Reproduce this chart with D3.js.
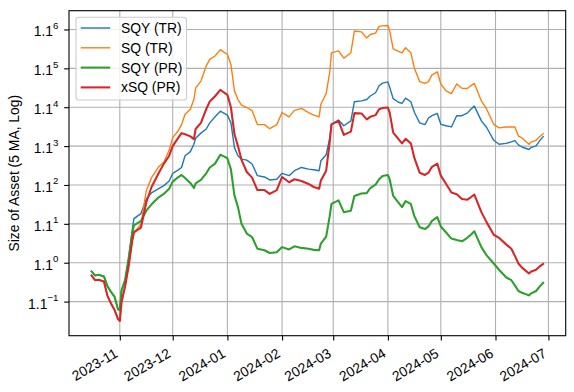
<!DOCTYPE html>
<html><head><meta charset="utf-8">
<script src="https://cdn.jsdelivr.net/npm/d3@7/dist/d3.min.js"></script>
<style>
body{margin:0;background:#fff}
svg{display:block}
text{font-family:"Liberation Sans",Arial,Helvetica,sans-serif}
</style>
</head><body>
<svg id="chart" width="574" height="392"></svg>
<script>
// ---------------- data ----------------
const dates = ["2023-10-16","2023-10-18","2023-10-20","2023-10-23","2023-10-25","2023-10-27","2023-10-29","2023-10-31","2023-11-01","2023-11-02",
"2023-11-04","2023-11-06","2023-11-08","2023-11-09","2023-11-11","2023-11-13","2023-11-16","2023-11-19","2023-11-23","2023-11-26",
"2023-11-29","2023-12-01","2023-12-04","2023-12-06","2023-12-08","2023-12-11","2023-12-13","2023-12-14","2023-12-17","2023-12-20",
"2023-12-22","2023-12-25","2023-12-28","2023-12-30","2024-01-01","2024-01-03","2024-01-05","2024-01-07","2024-01-09","2024-01-12",
"2024-01-15","2024-01-18","2024-01-22","2024-01-25","2024-01-29","2024-02-01","2024-02-05","2024-02-08","2024-02-12","2024-02-16",
"2024-02-19","2024-02-22","2024-02-23","2024-02-26","2024-02-28","2024-02-29","2024-03-04","2024-03-07","2024-03-11","2024-03-13",
"2024-03-17","2024-03-20","2024-03-22","2024-03-25","2024-03-27","2024-03-29","2024-04-01","2024-04-02","2024-04-04","2024-04-07",
"2024-04-09","2024-04-11","2024-04-14","2024-04-16","2024-04-19","2024-04-22","2024-04-24","2024-04-26","2024-04-29","2024-05-01",
"2024-05-04","2024-05-07","2024-05-10","2024-05-13","2024-05-16","2024-05-18","2024-05-20","2024-05-24","2024-05-27","2024-05-31",
"2024-06-03","2024-06-07","2024-06-10","2024-06-12","2024-06-14","2024-06-16","2024-06-20","2024-06-21","2024-06-24","2024-06-26","2024-06-28"];

const sqyTR = [0.979,0.969,0.971,0.967,0.944,0.931,0.920,0.892,0.890,0.935,
0.958,1.010,1.081,1.114,1.121,1.128,1.169,1.187,1.199,1.208,
1.222,1.245,1.255,1.263,1.300,1.313,1.337,1.357,1.374,1.388,
1.409,1.430,1.450,1.443,1.436,1.409,1.326,1.300,1.289,1.286,
1.274,1.238,1.234,1.225,1.227,1.245,1.238,1.253,1.263,1.258,
1.256,1.253,1.284,1.303,1.357,1.404,1.419,1.399,1.416,1.484,
1.487,1.492,1.505,1.517,1.543,1.553,1.558,1.538,1.495,1.482,
1.478,1.497,1.484,1.446,1.409,1.403,1.426,1.434,1.442,1.404,
1.399,1.395,1.434,1.434,1.443,1.457,1.468,1.416,1.393,1.350,
1.337,1.340,1.345,1.349,1.335,1.328,1.320,1.326,1.332,1.348,1.362];

const sqTR = [0.969,0.958,0.959,0.955,0.922,0.905,0.891,0.871,0.867,0.908,
0.944,0.991,1.054,1.079,1.087,1.100,1.193,1.232,1.265,1.279,
1.318,1.359,1.381,1.403,1.439,1.457,1.492,1.534,1.561,1.620,
1.646,1.660,1.686,1.676,1.667,1.626,1.524,1.492,1.472,1.463,
1.452,1.403,1.403,1.389,1.403,1.445,1.430,1.453,1.460,1.445,
1.436,1.430,1.475,1.514,1.595,1.673,1.681,1.651,1.673,1.765,
1.761,1.735,1.750,1.756,1.785,1.787,1.789,1.765,1.689,1.679,
1.673,1.694,1.673,1.611,1.559,1.552,1.559,1.585,1.597,1.550,
1.524,1.514,1.550,1.534,1.533,1.543,1.552,1.487,1.457,1.404,
1.392,1.395,1.395,1.395,1.364,1.358,1.337,1.344,1.350,1.362,1.372];

const sqyPR = [0.979,0.969,0.971,0.967,0.944,0.931,0.920,0.892,0.890,0.935,
0.958,1.010,1.073,1.096,1.102,1.108,1.136,1.154,1.174,1.184,
1.199,1.220,1.233,1.240,1.231,1.216,1.201,1.215,1.225,1.245,
1.263,1.275,1.303,1.298,1.292,1.257,1.179,1.146,1.100,1.074,
1.065,1.035,1.031,1.024,1.026,1.039,1.033,1.041,1.037,1.035,
1.032,1.031,1.048,1.066,1.121,1.155,1.165,1.132,1.136,1.178,
1.185,1.186,1.201,1.211,1.227,1.237,1.240,1.227,1.178,1.159,
1.146,1.163,1.155,1.121,1.091,1.086,1.093,1.108,1.118,1.093,
1.077,1.061,1.057,1.054,1.063,1.071,1.080,1.039,1.018,0.998,
0.983,0.965,0.958,0.946,0.933,0.929,0.923,0.927,0.933,0.943,0.952];

const xsqPR = [0.969,0.958,0.959,0.955,0.922,0.905,0.891,0.871,0.867,0.908,
0.944,0.991,1.054,1.077,1.084,1.090,1.159,1.204,1.245,1.275,
1.300,1.331,1.357,1.374,1.370,1.363,1.354,1.388,1.409,1.457,
1.485,1.504,1.528,1.518,1.509,1.464,1.371,1.331,1.287,1.249,
1.232,1.195,1.195,1.184,1.195,1.234,1.218,1.227,1.222,1.213,
1.204,1.199,1.223,1.253,1.344,1.404,1.416,1.368,1.379,1.443,
1.442,1.421,1.430,1.436,1.457,1.461,1.463,1.445,1.376,1.354,
1.340,1.355,1.340,1.293,1.247,1.240,1.247,1.265,1.275,1.238,
1.213,1.188,1.183,1.169,1.167,1.174,1.182,1.132,1.104,1.071,
1.063,1.046,1.035,1.017,0.998,0.988,0.974,0.978,0.983,0.991,0.997];

const seriesNames = ["SQY (TR)","SQ (TR)","SQY (PR)","xSQ (PR)"];
const yTickExponents = [-1,0,1,2,3,4,5,6];
const yTickBase = "1.1";
const xTickLabels = ["2023-11","2023-12","2024-01","2024-02","2024-03","2024-04","2024-05","2024-06","2024-07"];
const yAxisLabel = "Size of Asset (5 MA, Log)";

// ---------------- styles ----------------
const style = {
  colors: ["#1f77b4","#ff7f0e","#2ca02c","#d62728"],
  widths: [1.39,1.39,2.08,2.08],
  font: 13.9,
  grid: "#b0b0b0"
};

// ---------------- layout ----------------
const W = 574, H = 392;
const plot = {left:69, right:565.7, top:10.7, bottom:335.7};
const svg = d3.select("#chart");

const parseDay = d3.timeParse("%Y-%m-%d");
const parseMonth = d3.timeParse("%Y-%m");
const t = dates.map(parseDay);
const series = [sqyTR, sqTR, sqyPR, xsqPR];

// matplotlib-like 5% margins
const [t0, t1] = d3.extent(t);
const tp = (t1 - t0) * 0.05;
const x = d3.scaleTime().domain([new Date(+t0 - tp), new Date(+t1 + tp)]).range([plot.left, plot.right]);

const allV = series.flat();
const lmin = Math.log(d3.min(allV)), lmax = Math.log(d3.max(allV));
const lp = (lmax - lmin) * 0.05;
const y = d3.scaleLog().base(1.1).domain([Math.exp(lmin - lp), Math.exp(lmax + lp)]).range([plot.bottom, plot.top]);

const xTicks = xTickLabels.map(parseMonth);
const yTicks = yTickExponents.map(n => Math.pow(1.1, n));

// grid
const grid = svg.append("g");
grid.selectAll("line.gx").data(xTicks).join("line")
  .attr("x1", d => x(d)).attr("x2", d => x(d)).attr("y1", plot.top).attr("y2", plot.bottom)
  .attr("stroke", style.grid).attr("stroke-width", 1.1);
grid.selectAll("line.gy").data(yTicks).join("line")
  .attr("y1", d => y(d)).attr("y2", d => y(d)).attr("x1", plot.left).attr("x2", plot.right)
  .attr("stroke", style.grid).attr("stroke-width", 1.1);

// lines
const clip = svg.append("clipPath").attr("id","clip").append("rect")
  .attr("x", plot.left).attr("y", plot.top).attr("width", plot.right-plot.left).attr("height", plot.bottom-plot.top);
const lineGen = d3.line().x((d,i) => x(t[i])).y(d => y(d));
const lines = svg.append("g").attr("clip-path","url(#clip)");
series.forEach((s, k) => {
  lines.append("path").datum(s)
    .attr("d", lineGen)
    .attr("fill","none")
    .attr("stroke", style.colors[k])
    .attr("stroke-width", style.widths[k])
    .attr("stroke-linejoin","round")
    .attr("stroke-linecap","square");
});

// axes
const xAxis = d3.axisBottom(x).tickValues(xTicks).tickFormat(d3.timeFormat("%Y-%m")).tickSize(4.86).tickSizeOuter(0);
const gx = svg.append("g").attr("transform", `translate(0,${plot.bottom})`).call(xAxis);
gx.select(".domain").remove();
gx.selectAll(".tick line").attr("stroke","#000").attr("stroke-width",1.1);
gx.selectAll(".tick text")
  .attr("font-size", style.font).attr("fill","#000")
  .attr("text-anchor","end")
  .attr("y", null).attr("dy", null)
  .attr("transform", "translate(-1.5,20.5) rotate(-30)");

const yAxis = d3.axisLeft(y).tickValues(yTicks).tickFormat("").tickSize(4.86).tickSizeOuter(0);
const gy = svg.append("g").attr("transform", `translate(${plot.left},0)`).call(yAxis);
gy.select(".domain").remove();
gy.selectAll(".tick line").attr("stroke","#000").attr("stroke-width",1.1);
gy.selectAll(".tick text").each(function(d, i) {
  const el = d3.select(this);
  el.attr("font-size", style.font).attr("fill","#000").attr("text-anchor","end")
    .attr("x", -10.5).attr("dy", null).attr("y", 6.5);
  el.append("tspan").text(yTickBase);
  const n = yTickExponents[i];
  el.append("tspan").attr("dy", -7.5).attr("font-size", style.font*0.7)
    .text(n < 0 ? "\u2212" + Math.abs(n) : String(n));
});

// spines
svg.append("rect").attr("x", plot.left).attr("y", plot.top)
  .attr("width", plot.right-plot.left).attr("height", plot.bottom-plot.top)
  .attr("fill","none").attr("stroke","#000").attr("stroke-width",1.1);

// y label
svg.append("text")
  .attr("transform", `translate(19,${(plot.top+plot.bottom)/2}) rotate(-90)`)
  .attr("text-anchor","middle").attr("font-size", style.font).attr("fill","#000")
  .text(yAxisLabel);

// legend
const leg = svg.append("g");
leg.append("rect").attr("x",76).attr("y",17.3).attr("width",110.5).attr("height",82.7)
  .attr("rx",2.8).attr("fill","#fff").attr("fill-opacity",0.8)
  .attr("stroke","#cccccc").attr("stroke-width",1.1);
seriesNames.forEach((name, k) => {
  const ly = 28 + k*19.8;
  leg.append("line").attr("x1",80.7).attr("x2",110.2).attr("y1",ly).attr("y2",ly)
    .attr("stroke", style.colors[k]).attr("stroke-width", style.widths[k]);
  leg.append("text").attr("x",121).attr("y",ly+4.9).attr("font-size",style.font).attr("fill","#000").text(name);
});
</script>
</body></html>
